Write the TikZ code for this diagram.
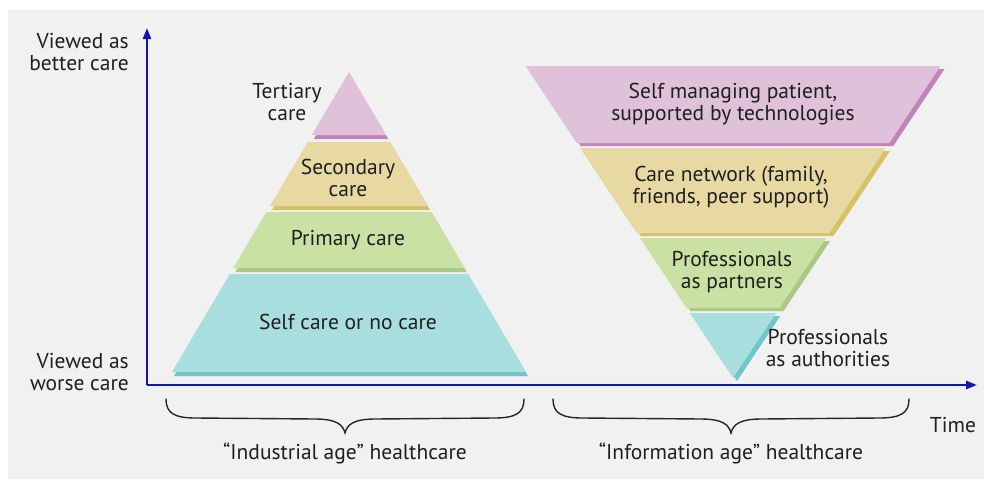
\documentclass[tikz,border=0pt]{standalone}
\usepackage{fontspec}
\setmainfont{PT Sans}
\usetikzlibrary{arrows.meta,calc}
\definecolor{bg}{HTML}{F1F1F1}
\definecolor{axisblue}{HTML}{1414B4}
\definecolor{pinkF}{HTML}{DFC2D9}
\definecolor{pinkS}{HTML}{C184B8}
\definecolor{tanF}{HTML}{E8D9A2}
\definecolor{tanS}{HTML}{D6C266}
\definecolor{greenF}{HTML}{C9E1A3}
\definecolor{greenS}{HTML}{A9C985}
\definecolor{cyanF}{HTML}{A9DEDF}
\definecolor{cyanS}{HTML}{6FC6C8}
\newcommand\slab[4]{%
  \fill[#2,shift={(\sdx,\sdy)}] ({\pcx-\pk*abs(#3-\pay)},#3) -- ({\pcx+\pk*abs(#3-\pay)},#3) -- ({\pcx+\pk*abs(#4-\pay)},#4) -- ({\pcx-\pk*abs(#4-\pay)},#4) -- cycle;
  \fill[#1] ({\pcx-\pk*abs(#3-\pay)},#3) -- ({\pcx+\pk*abs(#3-\pay)},#3) -- ({\pcx+\pk*abs(#4-\pay)},#4) -- ({\pcx-\pk*abs(#4-\pay)},#4) -- cycle;
}
\tikzset{
  lbl/.style={font=\fontsize{21.5}{21.5}\selectfont, align=center, inner sep=0pt, text=black!88},
  axisline/.style={draw=axisblue, line width=2.4pt, -{Triangle[length=11pt,width=8pt]}},
  bracel/.style={draw=black!85, line width=1.4pt, line cap=round},
}
\begin{document}
\begin{tikzpicture}[x=1pt,y=-1pt]
\useasboundingbox (0,0) rectangle (984,479);
\fill[white] (0,0) rectangle (984,479);
\fill[bg] (8,10) rectangle (984,479);
% left pyramid
\def\pcx{349}\def\pay{72}\def\pk{0.59}\def\sdx{2}\def\sdy{4}
\slab{cyanF}{cyanS}{274}{372}
\slab{greenF}{greenS}{212}{268}
\slab{tanF}{tanS}{142}{206}
\slab{pinkF}{pinkS}{72}{135}
% right pyramid
\def\pcx{733}\def\pay{378}\def\pk{0.665}\def\sdx{4}\def\sdy{3}
\slab{cyanF}{cyanS}{313}{378}
\slab{greenF}{greenS}{238}{308}
\slab{tanF}{tanS}{148}{233}
\slab{pinkF}{pinkS}{66}{143}
% axes
\coordinate (O) at (147,385);
\coordinate (Ytip) at (147,28);
\coordinate (Xtip) at (977,385);
\draw[axisline] (O) -- (Ytip);
\draw[axisline] (O) -- (Xtip);
% labels
\node[lbl, align=right, anchor=east] (better) at (129,52) {Viewed as\\better care};
\node[lbl, align=right, anchor=east] (worse) at (129,372) {Viewed as\\worse care};
\node[lbl] (tert) at (287,102) {Tertiary\\care};
\node[lbl] (sec) at (348,178) {Secondary\\care};
\node[lbl] (prim) at (348,240) {Primary care};
\node[lbl] (self) at (348,322) {Self care or no care};
\node[lbl] (smp) at (733,104) {Self managing patient,\\supported by technologies};
\node[lbl] (cn) at (731,187) {Care network (family,\\friends, peer support)};
\node[lbl] (pp) at (732,272) {Professionals\\as partners};
\node[lbl] (pa) at (828,348) {Professionals\\as authorities};
\node[lbl] (time) at (953,425) {Time};
\node[lbl] (ind) at (345,453) {“Industrial age” healthcare};
\node[lbl] (inf) at (731,453) {“Information age” healthcare};
% braces
\coordinate (b1l) at (166,399);
\coordinate (b1m) at (345,433);
\coordinate (b1r) at (524,399);
\coordinate (b2l) at (553,399);
\coordinate (b2m) at (731,433);
\coordinate (b2r) at (909,399);
\foreach \l/\m/\r in {b1l/b1m/b1r, b2l/b2m/b2r}{
  \draw[bracel] (\l) .. controls ($(\l)+(0,14)$) and ($(\l)+(8,19)$) .. ($(\l)+(30,19)$)
    -- ($(\m)+(-30,-14)$) .. controls ($(\m)+(-8,-14)$) and ($(\m)+(-2,-8)$) .. (\m)
    .. controls ($(\m)+(2,-8)$) and ($(\m)+(8,-14)$) .. ($(\m)+(30,-14)$)
    -- ($(\r)+(-30,19)$) .. controls ($(\r)+(-8,19)$) and ($(\r)+(0,14)$) .. (\r);
}
\end{tikzpicture}
\end{document}
